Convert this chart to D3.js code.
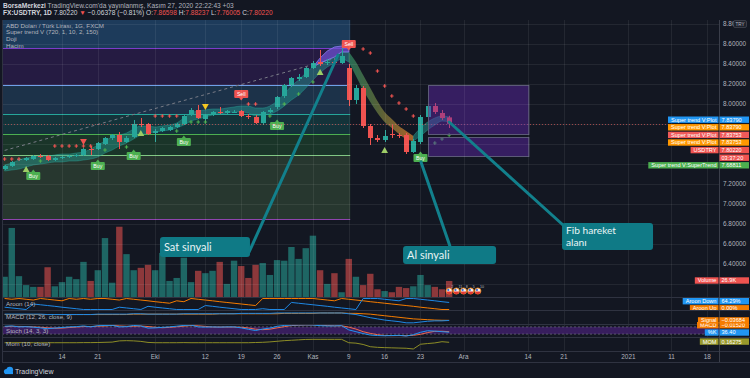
<!DOCTYPE html>
<html>
<head>
<meta charset="utf-8">
<script src="https://cdn.jsdelivr.net/npm/d3@7"></script>
<style>
  html, body { margin: 0; padding: 0; background: #131722; }
  svg { display: block; font-family: "Liberation Sans", Arial, sans-serif; }
</style>
</head>
<body>
<svg id="chart" width="750" height="378"></svg>
<script>
// ---------- data ----------
const dates = ["09-02","09-03","09-04","09-07","09-08","09-09","09-10","09-11","09-14","09-15",
  "09-16","09-17","09-18","09-21","09-22","09-23","09-24","09-25","09-28","09-29",
  "09-30","10-01","10-02","10-05","10-06","10-07","10-08","10-09","10-12","10-13",
  "10-14","10-15","10-16","10-19","10-20","10-21","10-22","10-23","10-26","10-27",
  "10-28","10-29","10-30","11-02","11-03","11-04","11-05","11-06","11-09","11-10",
  "11-11","11-12","11-13","11-16","11-17","11-18","11-19","11-20","11-23","11-24",
  "11-25","11-26","11-27"];

const open = [7.35,7.38,7.44,7.44,7.45,7.48,7.48,7.44,7.46,7.47, 7.48,7.49,7.55,7.55,7.60,7.66,7.69,7.62,7.67,7.80,
  7.80,7.71,7.73,7.74,7.77,7.80,7.89,7.94,7.85,7.89, 7.92,7.91,7.92,7.93,7.88,7.87,7.81,7.92,7.97,8.08,
  8.19,8.25,8.27,8.36,8.42,8.41,8.42,8.41,8.36,8.04, 8.16,7.78,7.66,7.64,7.70,7.69,7.69,7.52,7.62,7.87,
  7.98,7.91,7.866];
const close = [7.38,7.42,7.45,7.46,7.48,7.47,7.44,7.46,7.47,7.48, 7.49,7.55,7.54,7.61,7.66,7.69,7.62,7.66,7.80,7.79,
  7.70,7.73,7.76,7.77,7.80,7.88,7.94,7.86,7.89,7.92, 7.91,7.93,7.92,7.88,7.87,7.81,7.92,7.94,8.07,8.19,
  8.26,8.27,8.36,8.41,8.40,8.42,8.41,8.48,8.04,8.16, 7.78,7.66,7.64,7.68,7.69,7.68,7.52,7.63,7.87,7.98,
  7.92,7.86,7.802];
const high = [7.39,7.43,7.46,7.47,7.49,7.50,7.49,7.47,7.48,7.49, 7.50,7.56,7.58,7.62,7.67,7.70,7.72,7.68,7.84,7.86,
  7.81,7.75,7.77,7.78,7.81,7.89,7.96,7.99,7.90,7.93, 7.97,7.94,7.94,7.94,7.90,7.89,7.93,7.96,8.08,8.20,
  8.27,8.30,8.37,8.43,8.54,8.45,8.45,8.58,8.40,8.19, 8.18,7.80,7.69,7.74,7.79,7.71,7.71,7.65,7.89,8.00,
  8.01,7.94,7.882];
const low = [7.34,7.37,7.43,7.43,7.44,7.46,7.43,7.43,7.45,7.46, 7.47,7.48,7.49,7.54,7.59,7.64,7.55,7.61,7.66,7.77,
  7.69,7.62,7.72,7.73,7.76,7.79,7.88,7.85,7.83,7.88, 7.90,7.90,7.91,7.87,7.85,7.80,7.79,7.91,7.95,8.06,
  8.17,8.23,8.26,8.35,8.38,8.39,8.39,8.40,7.98,8.00, 7.76,7.59,7.62,7.62,7.66,7.66,7.50,7.51,7.60,7.85,
  7.90,7.84,7.760];

// volume in thousands
const volume = [34,116,35,20,17,17,50,18,25,34, 30,59,27,45,99,24,118,72,45,49,
  54,45,74,27,32,66,25,44,40,44, 59,22,61,52,32,54,57,37,62,61,
  84,64,82,103,45,22,40,8,64,34, 20,39,13,10,8,17,15,18,37,20,
  17,13,26.9];

// Super trend V band (upper / lower edge)
const stUpper = [7.39,7.41,7.44,7.46,7.47,7.48,7.48,7.49,7.50,7.50, 7.51,7.52,7.55,7.59,7.63,7.67,7.69,7.71,7.75,7.78,
  7.78,7.77,7.78,7.79,7.81,7.86,7.91,7.93,7.94,7.95, 7.95,7.96,7.97,7.98,7.98,7.96,7.96,7.98,8.03,8.10,
  8.18,8.24,8.31,8.37,8.41,8.44,8.47,8.52,8.52,8.42, 8.29,8.16,8.03,7.92,7.85,7.78,7.73,7.68,7.76,7.82,
  7.86,7.88,7.87];
const stLower = [7.33,7.34,7.35,7.37,7.39,7.40,7.41,7.42,7.42,7.43, 7.43,7.44,7.45,7.47,7.51,7.54,7.58,7.61,7.65,7.69,
  7.71,7.72,7.73,7.74,7.76,7.79,7.83,7.85,7.87,7.89, 7.90,7.91,7.92,7.92,7.91,7.88,7.89,7.90,7.93,7.98,
  8.04,8.09,8.16,8.24,8.31,8.37,8.41,8.45,8.42,8.28, 8.14,8.02,7.91,7.82,7.76,7.70,7.65,7.63,7.68,7.74,
  7.79,7.83,7.82];
const peakIdx = [43,44,45,46,47,48];
const peakHi = [8.37,8.46,8.53,8.57,8.58,8.57];
const peakLo = [8.37,8.41,8.44,8.47,8.52,8.52];

// signal markers: [bar, price]
const redDots = [[0,7.45],[1,7.45],[2,7.45],[7,7.58],[8,7.58],[9,7.58],[10,7.58],[11,7.58],[12,7.58],
  [21,7.88],[22,7.88],[23,7.88],[24,7.88],[34,8.00],[35,8.00],
  [50,8.55],[51,8.51],[52,8.33],[53,8.18],[54,8.08],[55,8.01],[56,7.95],[57,7.88]];
const greenDots = [[5,7.43],[14,7.54],[17,7.57],[24,7.73],[26,7.82],[27,7.82],[28,7.82],
  [37,7.88],[39,8.00],[41,8.10],[43,8.22],[60,7.61],[61,7.65],[62,7.69]];
const upTriangles = [[3,7.34],[19,7.70],[44,8.31],[53,7.53]];
const redDownTriangles = [[11,7.63]];
const yellowDownTriangles = [[28,7.98]];
const buyLabels = [[4,7.28],[13,7.38],[18,7.48],[25,7.62],[38,7.78],[58,7.46]];
const sellLabels = [[33,8.10],[48,8.60]];

// indicators
const aroonUp = [100,93,100,93,86,100,93,86,79,100, 93,100,93,100,100,93,86,100,93,86,
  79,71,64,57,79,71,100,93,86,79, 71,64,57,50,43,36,100,100,100,100,
  100,100,100,100,93,86,79,100,93,86, 79,71,64,57,50,43,36,29,21,14,
  7,0,0];
const aroonDown = [21,14,7,0,50,43,36,29,21,14, 7,0,0,0,0,0,21,14,7,0,
  29,21,14,7,0,0,0,0,36,29, 21,14,7,0,0,0,7,0,0,0,
  64,57,50,43,36,29,21,14,7,0, 100,100,100,93,86,79,100,100,93,86,
  79,71,64];
const macdLine = [0.12,0.12,0.12,0.12,0.12,0.12,0.11,0.11,0.11,0.11, 0.11,0.11,0.11,0.12,0.12,0.12,0.12,0.12,0.13,0.13,
  0.12,0.12,0.12,0.12,0.12,0.13,0.13,0.13,0.13,0.13, 0.13,0.13,0.13,0.14,0.14,0.14,0.14,0.14,0.15,0.15,
  0.15,0.15,0.15,0.15,0.15,0.15,0.15,0.15,0.13,0.11, 0.07,0.03,0.00,-0.03,-0.05,-0.07,-0.10,-0.10,-0.08,-0.06,
  -0.05,-0.05,-0.04];
const macdSignal = [0.11,0.11,0.11,0.11,0.11,0.11,0.11,0.11,0.11,0.11, 0.11,0.11,0.11,0.11,0.11,0.11,0.11,0.11,0.12,0.12,
  0.12,0.12,0.12,0.12,0.12,0.12,0.12,0.12,0.12,0.12, 0.13,0.13,0.13,0.13,0.13,0.13,0.13,0.13,0.13,0.14,
  0.14,0.14,0.14,0.14,0.15,0.15,0.15,0.15,0.14,0.14, 0.13,0.12,0.10,0.08,0.06,0.04,0.02,0.00,-0.01,-0.02,
  -0.03,-0.035,-0.037];
const stochK = [85,88,80,82,78,72,65,70,75,80, 82,88,80,90,92,93,80,82,92,88,
  70,72,76,80,86,92,95,80,78,80, 78,80,80,72,60,50,62,70,85,92,
  95,96,97,96,90,88,88,90,55,40, 25,12,8,6,8,10,4,15,35,48,
  45,40,36];
const stochD = [82,85,84,83,80,77,72,69,70,75, 79,83,83,86,87,92,88,85,85,87,
  83,77,73,76,81,86,91,89,84,79, 79,79,79,77,71,61,57,61,72,82,
  91,94,96,96,94,91,89,89,78,62, 40,26,15,9,7,8,7,10,18,33,
  43,44,40];
const momentum = [0.12,0.12,0.13,0.12,0.12,0.11,0.12,0.12,0.12,0.12, 0.12,0.13,0.13,0.14,0.16,0.18,0.30,0.32,0.30,0.25,
  0.15,0.12,0.12,0.12,0.12,0.13,0.12,0.12,0.12,0.12, 0.12,0.12,0.12,0.12,0.12,0.14,0.16,0.20,0.26,0.32,
  0.36,0.40,0.44,0.45,0.45,0.45,0.45,0.45,0.12,0.08, -0.05,-0.27,-0.33,-0.36,-0.38,-0.40,-0.42,-0.49,-0.03,0.04,
  0.10,0.22,0.16];

// axis ticks
const tickIdx = [8,13,21,28,33,38,43,48,53,58,64,73,78,87,93,98];
const tickLabels = ["14","21","Eki","12","19","26","Kas","9","16","23","Ara","14","21","2021","11","18"];
const priceTicks = [6.2,6.4,6.6,6.8,7.0,7.2,7.4,7.6,7.8,8.0,8.2,8.4,8.6,8.8];
// tick labels that sit under the value tags on the right are not visible
const hiddenPriceTicks = [6.2,7.4,7.6,7.8];

// drawings: fibonacci levels on the left, fib box on the right
const fibLevels = [8.96,8.56,8.19,7.90,7.70,7.49,6.85];
const fibFills = ["#1d3b5b","#251b42","#1c3249","#14333a","#1a3529","#27372f"];
const fibLines = ["#5b7fb0","#7b3cc9","#6fa0e8","#26a69a","#4caf50","#81c784","#8e44ad"];
const fibEndIdx = 48.2;
const fibBoxIdx = [59, 73];
const fibBoxLevels = [[8.19,7.70],[7.67,7.48]];
const trendIdx = [-0.8, 46.8];
const trendPrice = [7.52, 8.47];

// right axis tags
const tagNames = ["Super trend V:Plot","Super trend V:Plot","Super trend V:Plot","Super trend V:Plot","USDTRY","","Super trend V:SuperTrend"];
const tagValues = ["7.83790","7.83790","7.83753","7.83753","7.80220","03:37:20","7.68811"];
const tagColors = ["#2196f3","#ff9800","#f05a5a","#ff9800","#ef5350","#ef5350","#4caf50"];

// ---------- layout ----------
const paneL = 2, paneR = 719;
const up = "#26a69a", down = "#ef5350";
const svg = d3.select("#chart");
const defs = svg.append("defs");

defs.append("clipPath").attr("id", "clipPrice")
  .append("rect").attr("x", paneL).attr("y", 20).attr("width", paneR - paneL).attr("height", 277);
defs.append("clipPath").attr("id", "clipInd")
  .append("rect").attr("x", paneL).attr("y", 297).attr("width", paneR - paneL).attr("height", 54);
defs.append("clipPath").attr("id", "clipAroonTag")
  .append("rect").attr("x", 600).attr("y", 297).attr("width", 150).attr("height", 13);

// scales
const x = d3.scaleLinear().domain([0, 98]).range([4.6, 707.3]);
const y = d3.scaleLinear().domain([6.2, 8.8]).range([284, 24]);
const yVol = d3.scaleLinear().domain([0, 130]).range([297, 219.6]);
const yAroon = d3.scaleLinear().domain([0, 100]).range([309.5, 298.5]);
const yMacd = d3.scaleLinear().domain([-0.13, 0.2]).range([324, 311]);
const yStoch = d3.scaleLinear().domain([0, 100]).range([336.5, 324.5]);
const yMom = d3.scaleLinear().domain([-0.6, 0.6]).range([350.1, 337.8]);

const bars = d3.range(dates.length);
const px = v => Math.round(v) + 0.5;

svg.append("rect").attr("width", 750).attr("height", 378).attr("fill", "#131722");

// ---------- price pane ----------
const gPrice = svg.append("g").attr("clip-path", "url(#clipPrice)");

// fib retracement zones
fibFills.forEach((c, k) => {
  gPrice.append("rect")
    .attr("x", paneL).attr("width", x(fibEndIdx) - paneL)
    .attr("y", y(fibLevels[k])).attr("height", y(fibLevels[k + 1]) - y(fibLevels[k]))
    .attr("fill", c);
});

// grid
const grid = svg.append("g").attr("stroke", "rgba(255,255,255,0.07)");
grid.selectAll("line.v").data(tickIdx).join("line")
  .attr("x1", d => px(x(d))).attr("x2", d => px(x(d))).attr("y1", 20).attr("y2", 351);
grid.selectAll("line.h").data(priceTicks.filter(p => y(p) > 20 && y(p) < 297)).join("line")
  .attr("x1", paneL).attr("x2", paneR).attr("y1", d => px(y(d))).attr("y2", d => px(y(d)));

fibLevels.forEach((lv, k) => {
  gPrice.append("line")
    .attr("x1", paneL).attr("x2", x(fibEndIdx))
    .attr("y1", px(y(lv))).attr("y2", px(y(lv)))
    .attr("stroke", fibLines[k]).attr("stroke-width", 1.2);
});

// dashed trend line
gPrice.append("line")
  .attr("x1", x(trendIdx[0])).attr("y1", y(trendPrice[0]))
  .attr("x2", x(trendIdx[1])).attr("y2", y(trendPrice[1]))
  .attr("stroke", "#787b86").attr("stroke-width", 1).attr("stroke-dasharray", "3,3");

// volume
gPrice.append("g").selectAll("rect").data(bars).join("rect")
  .attr("x", i => x(i) - 3.2).attr("width", 6.4)
  .attr("y", i => yVol(volume[i])).attr("height", i => yVol(0) - yVol(volume[i]))
  .attr("fill", i => close[i] >= open[i] ? "#1e6664" : "#8c383b");

// super trend bands
const band = d3.area().x(i => x(i)).y0(i => y(stLower[i])).y1(i => y(stUpper[i])).curve(d3.curveMonotoneX);
const bearGrad = defs.append("linearGradient").attr("id", "bearGrad")
  .attr("gradientUnits", "userSpaceOnUse").attr("x1", x(48)).attr("x2", x(57)).attr("y1", 0).attr("y2", 0);
bearGrad.append("stop").attr("offset", 0).attr("stop-color", "#2b7a5c");
bearGrad.append("stop").attr("offset", 0.45).attr("stop-color", "#5f6e3c");
bearGrad.append("stop").attr("offset", 1).attr("stop-color", "#c4702a");

gPrice.append("path").datum(d3.range(0, 49)).attr("d", band)
  .attr("fill", "rgba(38,166,154,0.42)").attr("stroke", "rgba(38,166,154,0.7)").attr("stroke-width", 0.6);
gPrice.append("path").datum(d3.range(48, 58)).attr("d", band)
  .attr("fill", "url(#bearGrad)").attr("opacity", 0.85);
gPrice.append("path").datum(d3.range(57, 63)).attr("d", band)
  .attr("fill", "rgba(38,166,154,0.45)").attr("stroke", "rgba(38,166,154,0.7)").attr("stroke-width", 0.6);

const peakArea = d3.area().x(k => x(peakIdx[k])).y0(k => y(peakLo[k])).y1(k => y(peakHi[k]));
gPrice.append("path").datum(d3.range(peakIdx.length)).attr("d", peakArea)
  .attr("fill", "rgba(110,80,210,0.75)").attr("stroke", "#8a7cf0").attr("stroke-width", 0.8);

// candles
const candle = gPrice.append("g").selectAll("g").data(bars).join("g");
candle.append("line")
  .attr("x1", i => px(x(i))).attr("x2", i => px(x(i)))
  .attr("y1", i => y(high[i])).attr("y2", i => y(low[i]))
  .attr("stroke", i => close[i] >= open[i] ? up : down);
candle.append("rect")
  .attr("x", i => px(x(i)) - 2.5).attr("width", 5)
  .attr("y", i => y(Math.max(open[i], close[i])))
  .attr("height", i => Math.max(1, Math.abs(y(open[i]) - y(close[i]))))
  .attr("fill", i => close[i] >= open[i] ? up : down);

// plus markers
const cross = d3.symbol().type(d3.symbolCross).size(7);
gPrice.append("g").selectAll("path").data(redDots).join("path")
  .attr("d", cross).attr("transform", d => `translate(${x(d[0])},${y(d[1])})`).attr("fill", "#ef5350");
gPrice.append("g").selectAll("path").data(greenDots).join("path")
  .attr("d", cross).attr("transform", d => `translate(${x(d[0])},${y(d[1])})`).attr("fill", "#4caf50");

// triangles
const tri = d3.symbol().type(d3.symbolTriangle).size(20);
gPrice.append("g").selectAll("path").data(upTriangles).join("path")
  .attr("d", tri).attr("transform", d => `translate(${x(d[0])},${y(d[1])})`).attr("fill", "#9ccc65");
gPrice.append("g").selectAll("path").data(redDownTriangles).join("path")
  .attr("d", tri).attr("transform", d => `translate(${x(d[0])},${y(d[1])}) rotate(180)`).attr("fill", "#ef5350");
gPrice.append("g").selectAll("path").data(yellowDownTriangles).join("path")
  .attr("d", tri).attr("transform", d => `translate(${x(d[0])},${y(d[1])}) rotate(180)`).attr("fill", "#f5c518");

// Buy / Sell labels
const buy = gPrice.append("g").selectAll("g").data(buyLabels).join("g")
  .attr("transform", d => `translate(${x(d[0])},${y(d[1])})`);
buy.append("path").attr("d", "M-2,-4 L0,-6.5 L2,-4 Z").attr("fill", "#4caf50");
buy.append("rect").attr("x", -7).attr("y", -4).attr("width", 14).attr("height", 8).attr("rx", 1).attr("fill", "#4caf50");
buy.append("text").attr("text-anchor", "middle").attr("dy", "0.35em")
  .attr("font-size", 5.2).attr("fill", "#fff").text("Buy");

const sell = gPrice.append("g").selectAll("g").data(sellLabels).join("g")
  .attr("transform", d => `translate(${x(d[0])},${y(d[1])})`);
sell.append("path").attr("d", "M-2,4 L0,6.5 L2,4 Z").attr("fill", "#ef5350");
sell.append("rect").attr("x", -7).attr("y", -4).attr("width", 14).attr("height", 8).attr("rx", 1).attr("fill", "#ef5350");
sell.append("text").attr("text-anchor", "middle").attr("dy", "0.35em")
  .attr("font-size", 5.2).attr("fill", "#fff").text("Sell");

// current price line
gPrice.append("line").attr("x1", paneL).attr("x2", paneR)
  .attr("y1", px(y(close[62]))).attr("y2", px(y(close[62])))
  .attr("stroke", "#ef5350").attr("stroke-opacity", 0.6).attr("stroke-dasharray", "1,2");

// fib box on the right, on top of the candles
fibBoxLevels.forEach(lv => {
  gPrice.append("rect")
    .attr("x", px(x(fibBoxIdx[0]))).attr("width", x(fibBoxIdx[1]) - x(fibBoxIdx[0]))
    .attr("y", px(y(lv[0]))).attr("height", y(lv[1]) - y(lv[0]))
    .attr("fill", "rgba(98,39,176,0.45)").attr("stroke", "#5c5a78").attr("stroke-width", 1);
});

// event icons near the volume baseline
const evIdx = [62, 63, 64, 65, 66], evNum = ["2","11","8","5","10"];
const ev = gPrice.append("g").selectAll("g").data(evIdx).join("g")
  .attr("transform", d => `translate(${x(d)},291)`);
ev.append("circle").attr("r", 3.1).attr("fill", "#f2f2f2").attr("stroke", "#f57c00").attr("stroke-width", 0.8);
ev.append("path").attr("d", "M-2.6,0.6 L2.6,0.6 A2.6,2.6 0 0 1 -2.6,0.6 Z").attr("fill", "#e53935");
ev.append("circle").attr("cx", -0.9).attr("cy", -1.1).attr("r", 1.1).attr("fill", "#3f6fd1");
ev.append("text").attr("x", 2.2).attr("y", -3).attr("font-size", 3.6).attr("fill", "#b2b5be")
  .text((d, k) => evNum[k]);

// ---------- callouts ----------
const callouts = [
  { text: ["Sat sinyali"], box: [21.67, 6.67], size: [90, 20], from: [34.1, 6.52], to: [46.5, 8.49] },
  { text: ["Al sinyali"], box: [55.57, 6.58], size: [93, 18], from: [62.1, 6.58], to: [58.07, 7.42] },
  { text: ["Fib hareket", "alanı"], box: [77.74, 6.81], size: [91, 27], from: [77.88, 6.79], to: [62, 7.82] }
];
const gCall = svg.append("g");
callouts.forEach(c => {
  gCall.append("line")
    .attr("x1", x(c.from[0])).attr("y1", y(c.from[1]))
    .attr("x2", x(c.to[0])).attr("y2", y(c.to[1]))
    .attr("stroke", "#12808c").attr("stroke-width", 3).attr("stroke-linecap", "round");
  gCall.append("rect")
    .attr("x", x(c.box[0])).attr("y", y(c.box[1]))
    .attr("width", c.size[0]).attr("height", c.size[1]).attr("rx", 3)
    .attr("fill", "#0f7a86");
  const multi = c.text.length > 1;
  // one text element per callout; extra lines go in tspans
  const t = gCall.append("text")
    .attr("x", x(c.box[0]) + 4)
    .attr("y", y(c.box[1]) + (multi ? 10.5 : c.size[1] / 2 + 3.8))
    .attr("font-family", "Lato, 'Open Sans', sans-serif")
    .attr("font-size", multi ? 10.2 : 11).attr("fill", "#e8f4f5");
  c.text.forEach((line, k) => {
    t.append("tspan").attr("x", x(c.box[0]) + 4).attr("dy", k === 0 ? 0 : 12.3).text(line);
  });
});

// ---------- indicator panes ----------
const gInd = svg.append("g").attr("clip-path", "url(#clipInd)");

// stoch band
gInd.append("rect").attr("x", paneL).attr("width", paneR - paneL)
  .attr("y", yStoch(80)).attr("height", yStoch(20) - yStoch(80)).attr("fill", "#381e5e");
[80, 20].forEach(v => gInd.append("line").attr("x1", paneL).attr("x2", paneR)
  .attr("y1", yStoch(v)).attr("y2", yStoch(v))
  .attr("stroke", "#787b86").attr("stroke-opacity", 0.6).attr("stroke-dasharray", "2,2"));

function series(arr, scale, color) {
  gInd.append("path").datum(bars)
    .attr("d", d3.line().x(i => x(i)).y(i => scale(arr[i])))
    .attr("fill", "none").attr("stroke", color).attr("stroke-width", 1);
}
series(aroonUp, yAroon, "#f57c00");
series(aroonDown, yAroon, "#1e88e5");
series(macdSignal, yMacd, "#f57c00");
series(macdLine, yMacd, "#1e88e5");
series(stochD, yStoch, "#f06a4a");
series(stochK, yStoch, "#2196f3");
series(momentum, yMom, "#8d8d26");

// pane separators and borders
const sep = svg.append("g").attr("stroke", "#2f3341");
[297, 310, 324, 337, 351, 362].forEach(v => sep.append("line")
  .attr("x1", paneL).attr("x2", 750).attr("y1", px(v)).attr("y2", px(v)));
sep.append("line").attr("x1", px(paneL)).attr("x2", px(paneL)).attr("y1", 20).attr("y2", 362);
sep.append("line").attr("x1", px(paneR)).attr("x2", px(paneR)).attr("y1", 20).attr("y2", 362)
  .attr("stroke", "#3a3e4a");

// pane titles
const legend = svg.append("g").attr("font-size", 6.2).attr("fill", "#b2b5be");
[["Aroon (14)", 303.5], ["MACD (12, 26, close, 9)", 317], ["Stoch (14, 3, 3)", 330.5], ["Mom (10, close)", 344]]
  .forEach(d => legend.append("text").attr("x", 6).attr("y", d[1]).attr("dy", "0.35em").text(d[0]));
["ABD Doları / Türk Lirası, 1G, FXCM", "Super trend V (720, 1, 10, 2, 150)", "Doji", "Hacim"]
  .forEach((t, k) => legend.append("text").attr("x", 6).attr("y", 25.5 + k * 6.8).attr("dy", "0.35em").text(t));

// ---------- axes ----------
const axisG = svg.append("g").attr("font-size", 6.4).attr("fill", "#b2b5be");
axisG.selectAll("text.p").data(priceTicks.filter(p => !hiddenPriceTicks.includes(p))).join("text")
  .attr("x", 723).attr("y", d => y(d)).attr("dy", "0.35em").text(d => d3.format(".5f")(d));
axisG.selectAll("text.t").data(tickIdx).join("text")
  .attr("x", d => x(d)).attr("y", 357).attr("dy", "0.35em").attr("text-anchor", "middle")
  .text((d, k) => tickLabels[k]);

// TRY badge
axisG.append("rect").attr("x", 733.5).attr("y", 20.5).attr("width", 13).attr("height", 7).attr("rx", 1.5)
  .attr("fill", "#1e222d").attr("stroke", "#50535e").attr("stroke-width", 0.6);
axisG.append("text").attr("x", 740).attr("y", 24).attr("dy", "0.35em").attr("text-anchor", "middle")
  .attr("font-size", 4.6).text("TRY");

function tag(parent, name, value, color, cy) {
  const g = parent.append("g").attr("font-size", 5.6).attr("fill", "#fff");
  if (name) {
    const r = g.append("rect").attr("y", cy - 3.2).attr("height", 6.4).attr("fill", color);
    const t = g.append("text").attr("x", 716.5).attr("y", cy).attr("dy", "0.35em")
      .attr("text-anchor", "end").text(name);
    const w = t.node().getComputedTextLength();
    r.attr("x", 716.5 - w - 3).attr("width", w + 5);
  }
  g.append("rect").attr("x", 719.5).attr("y", cy - 3.2).attr("width", 29.5).attr("height", 6.4).attr("fill", color);
  g.append("text").attr("x", 721.5).attr("y", cy).attr("dy", "0.35em").text(value);
}
tagNames.forEach((n, k) => tag(svg, n, tagValues[k], tagColors[k], 119.7 + k * 7.6));
tag(svg, "Volume", "26.9K", "#ef5350", 280.5);
const aroonTags = svg.append("g").attr("clip-path", "url(#clipAroonTag)");
tag(aroonTags, "Aroon Up", "0.00%", "#f57c00", 308.3);
tag(aroonTags, "Aroon Down", "64.29%", "#2196f3", 301.2);
tag(svg, "MACD", "−0.01520", "#f57c00", 325.2);
tag(svg, "Signal", "−0.03684", "#f57c00", 320.4);
tag(svg, "%K", "36.40", "#2196f3", 332.5);
tag(svg, "MOM", "0.16275", "#9a9a2c", 341.6);

// ---------- header ----------
const head = svg.append("g").attr("font-size", 6.6).attr("fill", "#b2b5be");
const h1 = head.append("text").attr("x", 3).attr("y", 5.8).attr("dy", "0.35em");
h1.append("tspan").attr("font-weight", "bold").attr("fill", "#d1d4dc").text("BorsaMerkezi");
h1.append("tspan").text(" TradingView.com'da yayınlanmış, Kasım 27, 2020 22:22:43 +03");
const h2 = head.append("text").attr("x", 3).attr("y", 12.8).attr("dy", "0.35em").attr("fill", "#d1d4dc");
h2.append("tspan").attr("font-weight", "bold").text("FX:USDTRY, 1D");
h2.append("tspan").text(" 7.80220 ");
h2.append("tspan").attr("fill", "#ef5350").text("▼");
h2.append("tspan").text(" −0.06378 (−0.81%) O:");
h2.append("tspan").attr("fill", "#ef5350").text("7.86598");
h2.append("tspan").text(" H:");
h2.append("tspan").attr("fill", "#ef5350").text("7.88237");
h2.append("tspan").text(" L:");
h2.append("tspan").attr("fill", "#ef5350").text("7.76005");
h2.append("tspan").text(" C:");
h2.append("tspan").attr("fill", "#ef5350").text("7.80220");

// TradingView logo
const logo = svg.append("g");
logo.append("circle").attr("cx", 6.5).attr("cy", 371.5).attr("r", 2.6).attr("fill", "#2196f3");
logo.append("circle").attr("cx", 9.8).attr("cy", 370).attr("r", 3.3).attr("fill", "#2196f3");
logo.append("rect").attr("x", 5).attr("y", 371.5).attr("width", 8).attr("height", 2.6).attr("fill", "#2196f3");
logo.append("text").attr("x", 15).attr("y", 372).attr("dy", "0.35em")
  .attr("font-size", 7).attr("fill", "#d1d4dc").text("TradingView");
</script>
</body>
</html>
